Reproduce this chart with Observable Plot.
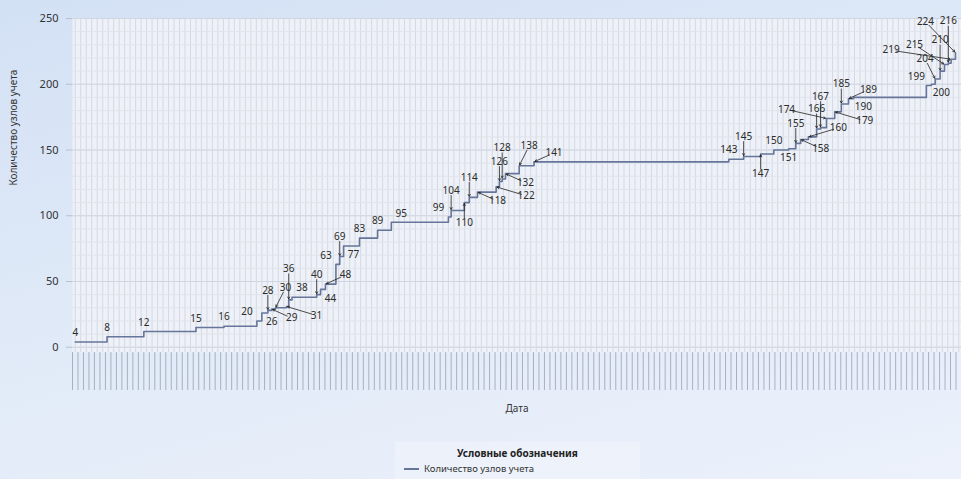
<!DOCTYPE html>
<html>
<head>
<meta charset="utf-8">
<script src="https://cdn.jsdelivr.net/npm/d3@7"></script>
<script src="https://cdn.jsdelivr.net/npm/@observablehq/plot@0.6"></script>
<style>
html, body { margin: 0; padding: 0; }
body {
  width: 961px; height: 479px; overflow: hidden; position: relative;
  background: linear-gradient(165deg, #d3e1f5 0%, #e2ebf8 55%, #ecf1fb 100%);
  font-family: "Noto Sans", sans-serif;
}
#chart { position: absolute; left: 0; top: 0; }
#legend {
  position: absolute; left: 395px; top: 442px; width: 245px; height: 37px;
  background: rgba(240, 244, 251, 0.55);
  font-family: "Noto Sans", sans-serif; color: #222;
}
#legend .title { text-align: center; font-weight: bold; font-size: 10px; margin-top: 4px; }
#legend .item { font-size: 9.5px; margin-left: 9px; margin-top: 2px; display: flex; align-items: center; color: #333; }
#legend .swatch { width: 15px; height: 0; border-top: 2px solid #66759a; margin-right: 5px; }
</style>
</head>
<body>
<div id="chart"></div>
<div id="legend">
  <div class="title">Условные обозначения</div>
  <div class="item"><span class="swatch"></span><span>Количество узлов учета</span></div>
</div>
<script>
// Position along the date axis (day index)
const days = [0, 5.8, 12.5, 22, 27.1, 33.1, 34, 35.1, 35.8, 36.5, 38.5, 38.9, 39.5,
  44, 44.7, 45.6, 47.5, 48.2, 48.9, 51.8, 55.1, 57.6, 68, 68.5, 70.9, 71.8, 73.3,
  76.7, 77.3, 77.8, 78.4, 80.9, 83.6, 119.1, 121.8, 124.9, 127.3, 130, 131.3, 132.2,
  133.6, 135.1, 135.8, 136.9, 138.4, 139.6, 140.9, 141.8, 155.1, 156, 156.7, 157.6,
  158.4, 159.1, 159.6, 160.4];
// Number of metering nodes at each date
const counts = [4, 8, 12, 15, 16, 20, 26, 28, 29, 30, 31, 36, 38,
  40, 44, 48, 63, 69, 77, 83, 89, 95, 99, 104, 110, 114, 118,
  122, 126, 128, 132, 138, 141, 143, 145, 147, 150, 151, 155, 158,
  160, 166, 167, 174, 179, 185, 189, 190, 199, 200, 204, 210,
  215, 216, 219, 224];
const yTicks = [0, 50, 100, 150, 200, 250];
const yTitle = "Количество узлов учета";
const xTitle = "Дата";

const data = days.map((d, i) => ({ day: d, count: counts[i] }));
const dayGrid = d3.range(0, 162);

function makePlot(labels, leaders) {
  return Plot.plot({
    width: 961, height: 420,
    marginTop: 18, marginBottom: 68, marginLeft: 72, marginRight: 0,
    style: { background: "transparent", fontFamily: "Noto Sans", fontSize: "10px", color: "#333", overflow: "visible" },
    x: { domain: [-0.5, 161.5], axis: null, label: null },
    y: { domain: [-4, 250], axis: null, label: null },
    marks: [
      Plot.frame({ fill: "#eef1f7", stroke: null }),
      Plot.gridX(dayGrid, { stroke: "#d4d9e3", strokeOpacity: 1 }),
      Plot.gridY(d3.range(0, 251, 10), { stroke: "#e0e4eb", strokeOpacity: 1 }),
      Plot.gridY(yTicks, { stroke: "#d0d6e0", strokeOpacity: 1 }),
      Plot.axisY({ ticks: yTicks, tickSize: 6, tickPadding: 8, fontSize: 11, fill: "#333", stroke: "#b8c0cf", label: null }),
      Plot.axisX({ ticks: d3.range(-0.5, 162, 1), tickSize: 38, tickFormat: () => "", stroke: "#7e889c", strokeOpacity: 0.6, label: null }),
      Plot.lineY(data, { x: "day", y: "count", curve: "step-after", stroke: "#66759a", strokeWidth: 1.6 }),
      Plot.arrow(leaders, { x1: "lx", y1: "ly", x2: "day", y2: "count", stroke: "#222", strokeWidth: 0.8, headLength: 4, insetStart: 5, insetEnd: 1 }),
      Plot.text(labels, { x: "lx", y: "ly", text: "count", fill: "#2b2b2b", fontSize: 10 }),
      Plot.text([xTitle], { text: d => d, frameAnchor: "bottom", dy: 59, fill: "#333", fontSize: 10 }),
      Plot.text([yTitle], { text: d => d, frameAnchor: "left", dx: -59, rotate: -90, fill: "#333", fontSize: 10 })
    ]
  });
}

// First pass: obtain the scales, then place the value labels so they avoid each other
const probe = makePlot([], []);
const sx = probe.scale("x"), sy = probe.scale("y");
const pts = data.map(d => ({ px: sx.apply(d.day), py: sy.apply(d.count) }));
const obstacles = [];
for (let i = 0; i < pts.length; i++) {
  const a = pts[i], b = pts[i + 1];
  if (!b) break;
  obstacles.push({ x0: a.px, x1: b.px, y0: a.py - 1, y1: a.py + 1 });
  obstacles.push({ x0: b.px - 1, x1: b.px + 1, y0: b.py, y1: a.py });
}
const dxs = [0, -10, 10, -20, 20, -30, 30, -40, -50, -60];
const dys = [-9, 9, -20, -31, 20, 31, -42, -53];
const cands = [];
for (const dy of dys) for (const dx of dxs) cands.push([dx, dy]);
const placed = [];
const labels = [], leaders = [];
const hit = (b, p) => !(b.x1 <= p.x0 || b.x0 >= p.x1 || b.y1 <= p.y0 || b.y0 >= p.y1);
data.forEach((d, i) => {
  const { px, py } = pts[i];
  const w = String(d.count).length * 6.2 + 3, h = 12;
  let best = null, bestScore = Infinity;
  for (const [dx, dy] of cands) {
    const b = { x0: px + dx - w / 2, x1: px + dx + w / 2, y0: py + dy - h / 2, y1: py + dy + h / 2 };
    let s = Math.abs(dy) / 8 + Math.abs(dx) / 12;
    if (b.y0 < 3 || b.x1 > 959 || b.y1 > 350) s += 100;
    for (const p of placed) if (hit(b, p)) s += 12;
    for (const p of obstacles) if (hit(b, p)) s += 3;
    if (s < bestScore) { bestScore = s; best = { dx, dy, b }; }
  }
  placed.push(best.b);
  const lab = { day: d.day, count: d.count, lx: sx.invert(px + best.dx), ly: sy.invert(py + best.dy) };
  labels.push(lab);
  if (Math.abs(best.dy) > 12 || Math.abs(best.dx) > 14) leaders.push(lab);
});

document.getElementById("chart").appendChild(makePlot(labels, leaders));
</script>
</body>
</html>
